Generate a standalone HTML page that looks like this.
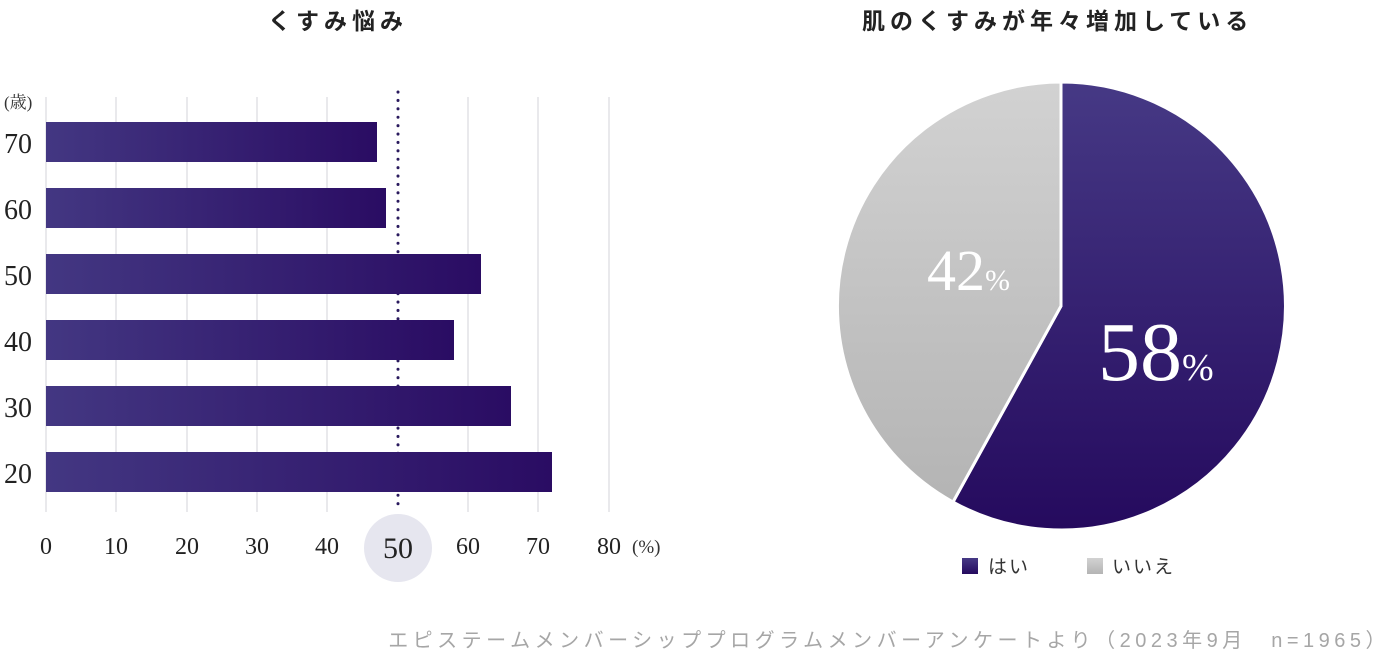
<!DOCTYPE html>
<html><head><meta charset="utf-8"><style>
body{margin:0;width:1400px;height:654px;background:#fff;overflow:hidden;position:relative;font-family:"Liberation Sans","Noto Sans CJK JP",sans-serif}
.t{position:absolute;font-weight:bold;font-size:23px;color:#222;letter-spacing:5px}
.serif{font-family:"Liberation Serif","Noto Serif CJK SC",serif}
</style></head><body>
<div class="t" style="left:268px;top:2px">くすみ悩み</div>
<div class="t" style="left:862px;top:2px">肌のくすみが年々増加している</div>
<svg width="1400" height="654" style="position:absolute;left:0;top:0">
<defs>
<linearGradient id="g" x1="0" x2="1" y1="0" y2="0"><stop offset="0" stop-color="#433782"/><stop offset="1" stop-color="#2a0c63"/></linearGradient>
<linearGradient id="p" x1="0" x2="0" y1="0" y2="1"><stop offset="0" stop-color="#463985"/><stop offset="1" stop-color="#250a5e"/></linearGradient>
<linearGradient id="q" x1="0" x2="0" y1="0" y2="1"><stop offset="0" stop-color="#d2d2d2"/><stop offset="1" stop-color="#b4b4b4"/></linearGradient>
</defs>
<g stroke="#e2e2e6" stroke-width="1.5">
<line x1="46" y1="97" x2="46" y2="512"/><line x1="116" y1="97" x2="116" y2="512"/><line x1="187" y1="97" x2="187" y2="512"/><line x1="257" y1="97" x2="257" y2="512"/><line x1="327" y1="97" x2="327" y2="512"/><line x1="468" y1="97" x2="468" y2="512"/><line x1="538" y1="97" x2="538" y2="512"/><line x1="609" y1="97" x2="609" y2="512"/>
</g>
<line x1="398" y1="92" x2="398" y2="508" stroke="#2a1a5e" stroke-width="3" stroke-dasharray="0.1 8.3" stroke-linecap="round"/>
<g fill="url(#g)">
<rect x="46" y="122" width="331" height="40"/><rect x="46" y="188" width="340" height="40"/><rect x="46" y="254" width="435" height="40"/><rect x="46" y="320" width="408" height="40"/><rect x="46" y="386" width="465" height="40"/><rect x="46" y="452" width="506" height="40"/>
</g>
<g class="serif" font-size="28" fill="#222">
<text x="4" y="153">70</text><text x="4" y="219">60</text><text x="4" y="285">50</text><text x="4" y="351">40</text><text x="4" y="417">30</text><text x="4" y="483">20</text>
</g>
<text x="4" y="108" class="serif" font-size="17" fill="#333">(歳)</text>
<ellipse cx="398" cy="548" rx="34" ry="34" fill="#e6e6ef"/>
<g class="serif" font-size="24" fill="#222" text-anchor="middle">
<text x="46" y="554">0</text><text x="116" y="554">10</text><text x="187" y="554">20</text><text x="257" y="554">30</text><text x="327" y="554">40</text><text x="398" y="558" font-size="30">50</text><text x="468" y="554">60</text><text x="538" y="554">70</text><text x="609" y="554">80</text>
</g>
<text x="632" y="553" class="serif" font-size="19" fill="#333">(%)</text>
<path d="M1061 306 L1061 82 A224 224 0 1 1 953 502 Z" fill="url(#p)" stroke="#fff" stroke-width="3"/>
<path d="M1061 306 L953 502 A224 224 0 0 1 1061 82 Z" fill="url(#q)" stroke="#fff" stroke-width="3"/>
<text x="927" y="290" class="serif" font-size="58" fill="#fff">42<tspan font-size="30">%</tspan></text>
<text x="1098" y="380" class="serif" font-size="84" fill="#fff">58<tspan font-size="38">%</tspan></text>
<rect x="962" y="558" width="16" height="16" fill="url(#p)"/>
<text x="988" y="573" font-size="19" fill="#333" letter-spacing="2">はい</text>
<rect x="1087" y="558" width="16" height="16" fill="url(#q)"/>
<text x="1112" y="573" font-size="19" fill="#333" letter-spacing="2">いいえ</text>
<text x="1390" y="647" text-anchor="end" font-size="20" fill="#a6a6a6" letter-spacing="4.5">エピステームメンバーシッププログラムメンバーアンケートより（2023年9月　n=1965）</text>
</svg>
</body></html>
